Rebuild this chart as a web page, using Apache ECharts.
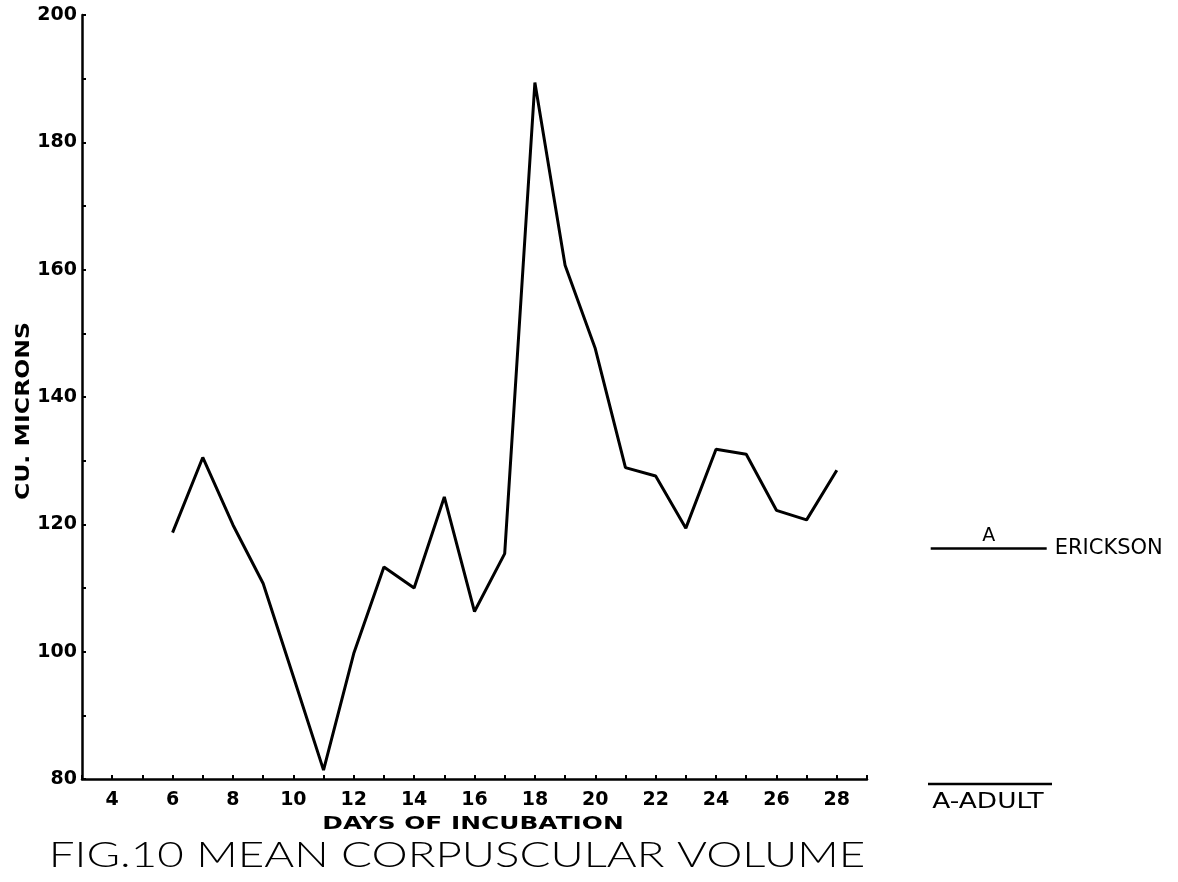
<!DOCTYPE html>
<html>
<head>
<meta charset="utf-8">
<script src="https://cdn.jsdelivr.net/npm/echarts@6/dist/echarts.min.js"></script>
<style>
html,body{margin:0;padding:0;background:#fff;}
#chart{width:1178px;height:882px;}
</style>
</head>
<body>
<div id="chart"></div>
<script>
// ---- data ----
const days = [6, 7, 8, 9, 10, 11, 12, 13, 14, 15, 16, 17, 18, 19, 20, 21, 22, 23, 24, 25, 26, 27, 28];
const mcv  = [118.7, 130.5, 119.9, 110.7, 96.1, 81.4, 99.7, 113.3, 110.0, 124.3, 106.3, 115.4, 189.4, 160.7, 147.6, 128.9, 127.6, 119.4, 131.8, 131.0, 122.2, 120.7, 128.5];
const xTickLabels = [4, 6, 8, 10, 12, 14, 16, 18, 20, 22, 24, 26, 28];
const yTickLabels = [80, 100, 120, 140, 160, 180, 200];
const ericksonAdult = 116.2;
const texts = {
  xName: 'DAYS OF INCUBATION',
  yName: 'CU. MICRONS',
  title: 'FIG.10 MEAN CORPUSCULAR VOLUME',
  refName: 'ERICKSON',
  refMark: 'A',
  keyText: 'A-ADULT'
};

// ---- chart ----
const chart = echarts.init(document.getElementById('chart'), null, {renderer: 'canvas'});
const lineData = days.map((d, i) => [d, mcv[i]]);
const axisFont = {fontFamily: 'DejaVu Sans', fontWeight: 'bold', fontSize: 19, color: '#000'};
const yMin = yTickLabels[0], yMax = yTickLabels[yTickLabels.length - 1];

const option = {
  backgroundColor: '#fff',
  animation: false,
  grid: [
    {left: 82, right: 311, top: 15, bottom: 103, containLabel: false, outerBoundsMode: 'none'},
    {left: 930.7, right: 131.3, top: 15, bottom: 103, containLabel: false, outerBoundsMode: 'none'}
  ],
  xAxis: [{
    type: 'value', gridIndex: 0, min: 3, max: 29, interval: 1,
    axisLine: {show: true, onZero: false, lineStyle: {color: '#000', width: 2.5}},
    axisTick: {show: true, inside: true, length: 4, lineStyle: {color: '#000', width: 2}},
    splitLine: {show: false},
    axisLabel: Object.assign({
      margin: 12, showMinLabel: true, showMaxLabel: true,
      formatter: v => (xTickLabels.indexOf(v) >= 0 ? String(v) : '')
    }, axisFont)
  }, {
    type: 'value', gridIndex: 1, min: 0, max: 2, show: false
  }],
  yAxis: [{
    type: 'value', gridIndex: 0, min: yMin, max: yMax, interval: 20,
    axisLine: {show: true, onZero: false, lineStyle: {color: '#000', width: 2.5}},
    axisTick: {show: true, inside: true, length: 4, lineStyle: {color: '#000', width: 2}},
    minorTick: {show: true, splitNumber: 2, length: 4, lineStyle: {color: '#000', width: 2}},
    splitLine: {show: false},
    axisLabel: Object.assign({margin: 5}, axisFont)
  }, {
    type: 'value', gridIndex: 1, min: yMin, max: yMax, show: false
  }],
  series: [
    {
      type: 'line', xAxisIndex: 0, yAxisIndex: 0, data: lineData, symbol: 'none',
      lineStyle: {color: '#000', width: 3}, itemStyle: {color: '#000'}
    },
    {
      type: 'line', xAxisIndex: 1, yAxisIndex: 1, clip: false,
      symbol: 'circle', symbolSize: 0, showSymbol: true, showAllSymbol: true,
      lineStyle: {color: '#000', width: 2.5}, itemStyle: {color: '#000'},
      label: {show: false},
      data: [
        {value: [0, ericksonAdult]},
        {value: [1, ericksonAdult], label: {show: true, position: 'top', distance: 3, formatter: texts.refMark,
          fontFamily: 'DejaVu Sans', fontSize: 19, fontWeight: 500, color: '#000'}},
        {value: [2, ericksonAdult], label: {show: true, position: 'right', distance: 8, formatter: texts.refName,
          fontFamily: 'DejaVu Sans', fontSize: 21, color: '#000'}}
      ]
    }
  ],
  graphic: [
    {type: 'text', x: 23.5, y: 411, rotation: Math.PI / 2, scaleX: 1.18,
      style: {text: texts.yName, fontFamily: 'DejaVu Sans', fontWeight: 'bold', fontSize: 20, fill: '#000',
        textAlign: 'center', textVerticalAlign: 'middle'}},
    {type: 'text', x: 473, y: 824, scaleX: 1.38,
      style: {text: texts.xName, fontFamily: 'DejaVu Sans', fontWeight: 'bold', fontSize: 18, fill: '#000',
        textAlign: 'center', textVerticalAlign: 'middle'}},
    {type: 'text', x: 457, y: 855, scaleX: 1.27,
      style: {text: texts.title, fontFamily: 'Lato', fontWeight: 300, fontSize: 36, fill: '#000',
        textAlign: 'center', textVerticalAlign: 'middle'}},
    {type: 'line', shape: {x1: 928, y1: 784, x2: 1052, y2: 784}, style: {stroke: '#000', lineWidth: 2.5}},
    {type: 'text', x: 988, y: 802, scaleX: 1.2,
      style: {text: texts.keyText, fontFamily: 'DejaVu Sans', fontSize: 22, fill: '#000',
        textAlign: 'center', textVerticalAlign: 'middle'}}
  ]
};
chart.setOption(option);
</script>
</body>
</html>
